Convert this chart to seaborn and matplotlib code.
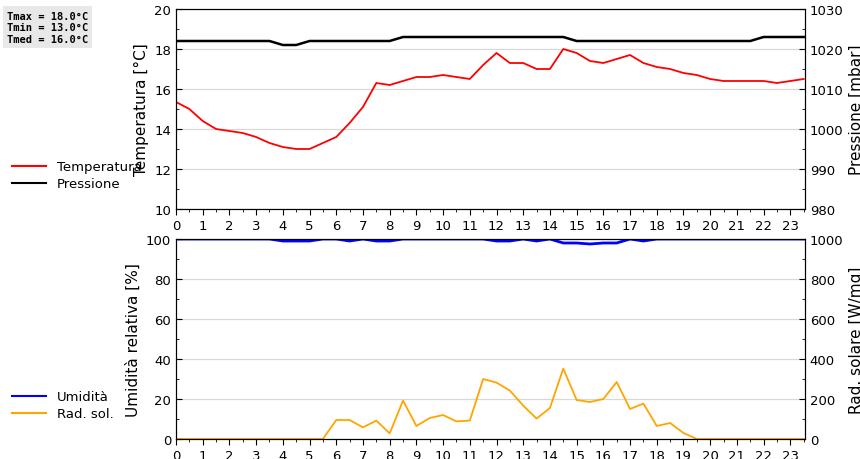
import numpy as np
import pandas as pd
import matplotlib
matplotlib.use("Agg")
import matplotlib.pyplot as plt
import seaborn as sns
from matplotlib.ticker import MultipleLocator
from matplotlib.lines import Line2D

hours = np.arange(0, 24, 0.5)
temp = [15.35, 15.0, 14.4, 14.0, 13.9, 13.8, 13.6, 13.3, 13.1, 13.0, 13.0, 13.3,
        13.6, 14.3, 15.1, 16.3, 16.2, 16.4, 16.6, 16.6, 16.7, 16.6, 16.5, 17.2,
        17.8, 17.3, 17.3, 17.0, 17.0, 18.0, 17.8, 17.4, 17.3, 17.5, 17.7, 17.3,
        17.1, 17.0, 16.8, 16.7, 16.5, 16.4, 16.4, 16.4, 16.4, 16.3, 16.4, 16.5]
press = [1022] * 8 + [1021, 1021] + [1022] * 7 + [1023] * 13 + [1022] * 14 + [1023] * 4
hum = [100] * 8 + [99, 99, 99] + [100] * 2 + [99] + [100] + [99, 99] + [100] * 7 + \
      [99, 99] + [100] + [99] + [100] + [98, 98, 97.5, 98, 98] + [100] + [99] + [100] * 12
rad = [0] * 12 + [95, 95, 58, 92, 28, 192, 65, 105, 120, 88, 92, 300, 282, 242, 167,
                  102, 155, 352, 195, 185, 200, 285, 150, 177, 65, 80, 30, 0] + [0] * 8

df = pd.DataFrame({"ora": hours, "temp": temp, "press": press, "hum": hum, "rad": rad})

fig = plt.figure(figsize=(8.6, 4.6), dpi=100)
W, H = 860, 460
ax1 = fig.add_axes([176 / W, 1 - 210 / H, 629 / W, 200 / H])
ax3 = fig.add_axes([176 / W, 1 - 440 / H, 629 / W, 200 / H])
ax2 = ax1.twinx()
ax4 = ax3.twinx()

sns.lineplot(data=df, x="ora", y="temp", ax=ax1, color="#ff0000", lw=1.3)
sns.lineplot(data=df, x="ora", y="press", ax=ax2, color="black", lw=1.8)
sns.lineplot(data=df, x="ora", y="hum", ax=ax3, color="#0000ff", lw=2)
sns.lineplot(data=df, x="ora", y="rad", ax=ax4, color="orange", lw=1.3)

for ax, lo, hi, step, minor, lab in [(ax1, 10, 20, 2, 1, "Temperatura [°C]"),
                                     (ax2, 980, 1030, 10, 5, "Pressione [mbar]"),
                                     (ax3, 0, 100, 20, 10, "Umidità relativa [%]"),
                                     (ax4, 0, 1000, 200, 100, "Rad. solare [W/mq]")]:
    ax.set_ylim(lo, hi)
    ax.yaxis.set_major_locator(MultipleLocator(step))
    ax.yaxis.set_minor_locator(MultipleLocator(minor))
    ax.set_ylabel(lab, fontsize=11)
    ax.set_xlim(0, 23.55)
    ax.set_xlabel("")
    ax.tick_params(labelsize=9.5, direction="in", length=4)
    ax.tick_params(which="minor", direction="in", length=2)

# twin axes sit behind and carry the grid; main axes on top, transparent
for main, twin in ((ax1, ax2), (ax3, ax4)):
    main.xaxis.set_major_locator(MultipleLocator(1))
    main.xaxis.set_minor_locator(MultipleLocator(0.5))
    main.tick_params(axis="x", which="both", direction="out")
    twin.xaxis.set_minor_locator(MultipleLocator(0.5))
    twin.grid(True, which="both", axis="x", color="#d8d8d8", lw=0.9)
    twin.grid(True, which="major", axis="y", color="#d8d8d8", lw=0.9)
    twin.set_zorder(0)
    main.set_zorder(1)
    main.patch.set_visible(False)
    twin.patch.set_facecolor("white")

fig.text(0.008, 0.975, "Tmax = 18.0°C\nTmin = 13.0°C\nTmed = 16.0°C", family="DejaVu Sans Mono",
         fontsize=7.5, fontweight="bold", va="top",
         bbox=dict(facecolor="#e8e8e8", edgecolor="none", pad=3))

fig.legend(handles=[Line2D([], [], color="#ff0000", lw=1.5), Line2D([], [], color="black", lw=1.5)],
           labels=["Temperatura", "Pressione"], loc="upper left", bbox_to_anchor=(0.0, 0.675),
           frameon=False, fontsize=9.5, handlelength=2.6, labelspacing=0.3)
fig.legend(handles=[Line2D([], [], color="#0000ff", lw=1.5), Line2D([], [], color="orange", lw=1.5)],
           labels=["Umidità", "Rad. sol."], loc="upper left", bbox_to_anchor=(0.0, 0.175),
           frameon=False, fontsize=9.5, handlelength=2.6, labelspacing=0.3)

fig.savefig("out.png", dpi=100)
